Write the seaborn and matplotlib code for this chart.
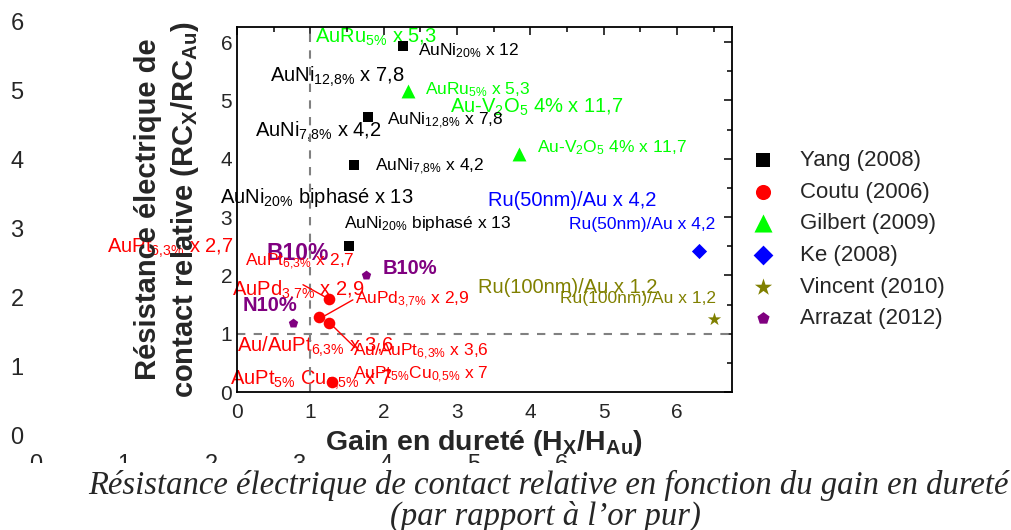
import matplotlib
matplotlib.use("Agg")
import numpy as np
import pandas as pd
import matplotlib.pyplot as plt
import seaborn as sns
from matplotlib.patches import Rectangle

# --- data ---
studies = ["Yang (2008)", "Coutu (2006)", "Gilbert (2009)", "Ke (2008)",
           "Vincent (2010)", "Arrazat (2012)"]
colors = ["black", "red", "lime", "blue", "olive", "purple"]
markers = ["s", "o", "^", "D", "*", "p"]

yang_x = [2.26, 1.79, 1.60, 1.53]
yang_y = [5.93, 4.71, 3.90, 2.50]
coutu_x = [1.26, 1.12, 1.26, 1.30]
coutu_y = [1.59, 1.29, 1.19, 0.17]
gilbert_x = [2.33, 3.85]
gilbert_y = [5.17, 4.09]
ke_x = [6.30]
ke_y = [2.41]
vincent_x = [6.50]
vincent_y = [1.26]
arrazat_x = [1.76, 0.76]
arrazat_y = [2.00, 1.19]

# red connector lines (Coutu labels)
link_x = [[0.90, 1.26], [1.58, 1.20], [1.26, 1.61]]
link_y = [[1.84, 1.59], [1.58, 1.31], [1.19, 0.76]]

# point labels, main layer
labels = [r"AuNi$_\mathrm{20\%}$ x 12", r"AuNi$_\mathrm{12{,}8\%}$ x 7,8",
          r"AuNi$_\mathrm{7{,}8\%}$ x 4,2", r"AuNi$_\mathrm{20\%}$ biphasé x 13",
          r"AuRu$_\mathrm{5\%}$ x 5,3", r"Au-V$_\mathrm{2}$O$_\mathrm{5}$ 4% x 11,7",
          "Ru(50nm)/Au x 4,2", "Ru(100nm)/Au x 1,2", "B10%", "N10%",
          r"AuPt$_\mathrm{6{,}3\%}$ x 2,7", r"AuPd$_\mathrm{3{,}7\%}$ x 2,9",
          r"Au/AuPt$_\mathrm{6{,}3\%}$ x 3,6", r"AuPt$_\mathrm{5\%}$Cu$_\mathrm{0{,}5\%}$ x 7"]
label_colors = ["black", "black", "black", "black", "lime", "lime", "blue", "olive",
                "purple", "purple", "red", "red", "red", "red"]
label_x = [2.47, 2.05, 1.88, 1.46, 2.56, 4.09, 4.53, 4.41, 1.99, 0.08, 0.11, 1.61, 1.58, 1.58]
label_y = [5.78, 4.58, 3.79, 2.81, 5.11, 4.11, 2.79, 1.53, 2.03, 1.39, 2.17, 1.51, 0.62, 0.22]

# offset copy of the labels (ghost layer behind the plot)
ghost_labels = [r"AuRu$_\mathrm{5\%}$ x 5,3", r"AuNi$_\mathrm{12{,}8\%}$ x 7,8",
                r"AuNi$_\mathrm{7{,}8\%}$ x 4,2", r"Au-V$_\mathrm{2}$O$_\mathrm{5}$ 4% x 11,7",
                r"AuNi$_\mathrm{20\%}$ biphasé x 13", "Ru(50nm)/Au x 4,2",
                r"AuPt$_\mathrm{6{,}3\%}$ x 2,7", "B10%", "Ru(100nm)/Au x 1,2",
                r"AuPd$_\mathrm{3{,}7\%}$ x 2,9", r"Au/AuPt$_\mathrm{6{,}3\%}$ x 3,6",
                r"AuPt$_\mathrm{5\%}$ Cu$_\mathrm{0{,}5\%}$ x 7"]
ghost_colors = ["lime", "black", "black", "lime", "black", "blue", "red", "purple",
                "olive", "red", "red", "red"]
ghost_x = [3.19, 2.67, 2.50, 4.73, 2.10, 5.17, 0.81, 2.64, 5.05, 2.24, 2.30, 2.22]
ghost_y = [5.70, 5.13, 4.33, 4.68, 3.37, 3.33, 2.65, 2.54, 2.06, 2.03, 1.21, 0.73]
ticks = [0, 1, 2, 3, 4, 5, 6]

sns.set_style("white")
plt.rcParams['font.family'] = ['Liberation Sans', 'DejaVu Sans']
plt.rcParams['mathtext.fontset'] = 'custom'
plt.rcParams['mathtext.rm'] = 'Liberation Sans'
plt.rcParams['mathtext.it'] = 'Liberation Sans:italic'
plt.rcParams['mathtext.bf'] = 'Liberation Sans:bold'

W, H = 1012, 530
fig = plt.figure(figsize=(W / 100, H / 100), dpi=100)
fig.patch.set_facecolor("white")

# ghost axes (only tick labels + offset labels)
gax = fig.add_axes([36 / W, (H - 435) / H, 525 / W, 413 / H], zorder=0)
gax.set_facecolor("none")
gax.set_xlim(0, 6)
gax.set_ylim(0, 6)
gax.set_xticks(ticks)
gax.set_yticks(ticks)
gax.tick_params(length=0, labelsize=17)
gax.tick_params(axis="y", pad=9)
gax.tick_params(axis="x", pad=14)
for sp in gax.spines.values():
    sp.set_visible(False)
for t, c, x, y in zip(ghost_labels, ghost_colors, ghost_x, ghost_y):
    bold = "bold" if t == "B10%" else "normal"
    size = 16.5 if t == "B10%" else 14.5
    gax.text(x, y, t, color=c, fontsize=size, fontweight=bold, ha="left", va="baseline")

# white strip hiding the lower half of ghost x tick labels
fig.add_artist(Rectangle((0, 0), 1, (H - 463) / H, transform=fig.transFigure,
                         facecolor="white", edgecolor="none", zorder=1))

# main axes
ax = fig.add_axes([237 / W, (H - 392) / H, (732 - 237) / W, (392 - 27) / H], zorder=2)
ax.set_facecolor("none")

series = [(yang_x, yang_y, 52), (coutu_x, coutu_y, 70), (gilbert_x, gilbert_y, 100),
          (ke_x, ke_y, 60), (vincent_x, vincent_y, 100), (arrazat_x, arrazat_y, 50)]
for (xs, ys, s), name, c, m in zip(series, studies, colors, markers):
    sns.scatterplot(x=xs, y=ys, color=c, marker=m, s=s, linewidth=0,
                    label=name, ax=ax, zorder=3)

for xs, ys in zip(link_x, link_y):
    ax.plot(xs, ys, color="red", lw=1, zorder=2)

ax.axvline(1, color="gray", ls=(0, (4, 4)), lw=1.5, zorder=1)
ax.axhline(1, color="gray", ls=(0, (4, 4)), lw=1.5, zorder=1)

for t, c, x, y in zip(labels, label_colors, label_x, label_y):
    bold = "bold" if t in ("B10%", "N10%") else "normal"
    size = 14.5 if t in ("B10%", "N10%") else 12.5
    ax.text(x, y, t, color=c, fontsize=size, fontweight=bold, ha="left", va="baseline")

ax.set_xlim(0, 6.75)
ax.set_ylim(0, 6.26)
ax.set_xticks(ticks)
ax.set_yticks(ticks)
ax.set_xticks(np.arange(0.5, 6.75, 1), minor=True)
ax.set_yticks(np.arange(0.5, 6.26, 1), minor=True)
ax.tick_params(which="both", direction="in", top=True, right=True, labelsize=15,
               width=1.1, color="black")
ax.tick_params(which="major", length=6)
ax.tick_params(which="minor", length=3.5)
ax.tick_params(axis="x", which="major", pad=8)
for sp in ax.spines.values():
    sp.set_visible(True)
    sp.set_color("black")
    sp.set_linewidth(1.3)

ax.set_xlabel(r"Gain en dureté (H$_\mathbf{X}$/H$_\mathbf{Au}$)", fontsize=20.5,
              fontweight="bold", labelpad=4)
ax.set_ylabel("Résistance électrique de\n" + r"contact relative (RC$_\mathbf{X}$/RC$_\mathbf{Au}$)",
              fontsize=21, fontweight="bold", linespacing=1.3, labelpad=14)

ax.legend(loc="upper left", bbox_to_anchor=(745 / W, 1 - 150 / H),
          bbox_transform=fig.transFigure, frameon=False, fontsize=16,
          markerscale=1.3, handlelength=1.6, handletextpad=0.88,
          labelspacing=0.48, borderpad=0, borderaxespad=0)

cap = dict(ha="center", va="center", fontsize=23.5, family="Liberation Serif",
           style="italic", zorder=3)
fig.text(548 / W, (H - 485) / H,
         "Résistance électrique de contact relative en fonction du gain en dureté", **cap)
fig.text(545 / W, (H - 516) / H, "(par rapport à l’or pur)", **cap)

fig.savefig("out.png", dpi=100)
